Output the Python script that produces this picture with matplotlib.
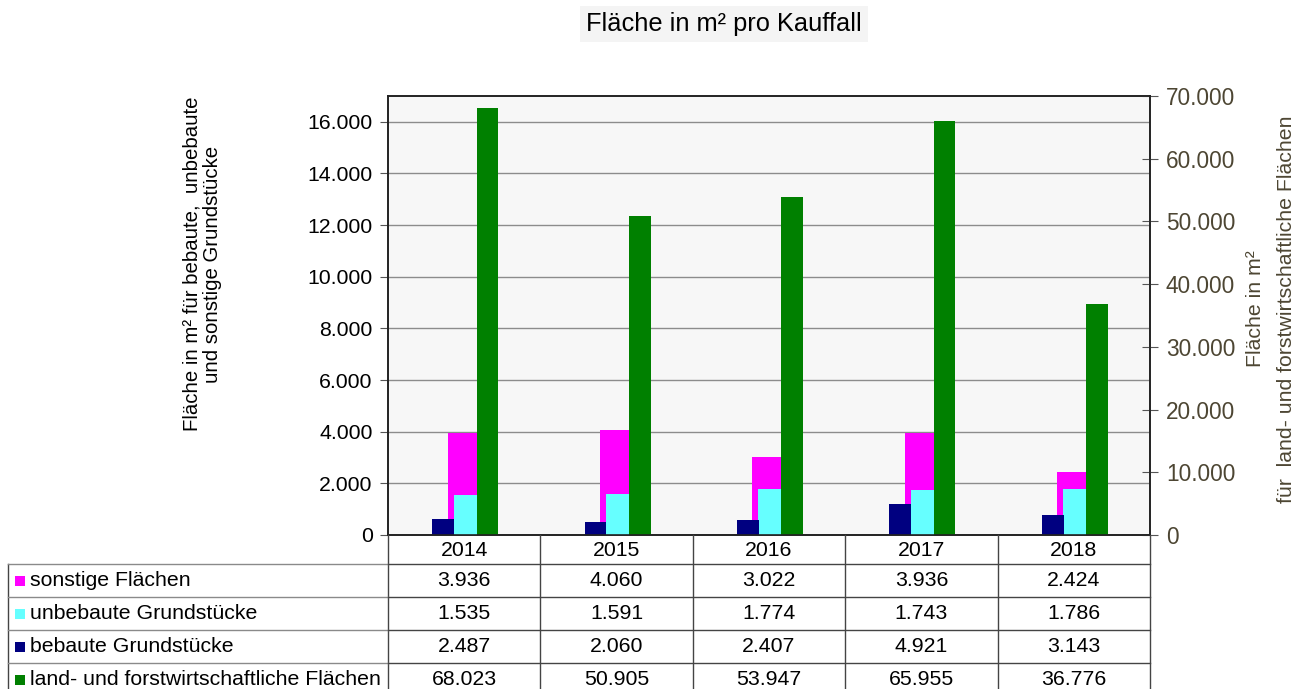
import numpy as np
import matplotlib
matplotlib.use("Agg")
import matplotlib.pyplot as plt
from matplotlib.ticker import FuncFormatter, MultipleLocator
from matplotlib.patches import Rectangle

years = ["2014", "2015", "2016", "2017", "2018"]
sonstige = [3936, 4060, 3022, 3936, 2424]
unbebaute = [1535, 1591, 1774, 1743, 1786]
bebaute = [2487, 2060, 2407, 4921, 3143]
land = [68023, 50905, 53947, 65955, 36776]

names = ["sonstige Flächen", "unbebaute Grundstücke",
         "bebaute Grundstücke", "land- und forstwirtschaftliche Flächen"]
colors = ["#ff00ff", "#66ffff", "#000080", "#008000"]


def de(v, pos=None):
    return f"{int(round(v)):,}".replace(",", ".")


plt.rcParams['font.family'] = ['Liberation Sans', 'DejaVu Sans']
FS = 15.3

W, H = 1301, 689
fig = plt.figure(figsize=(W / 100, H / 100), dpi=100)

# plot area in pixels
x0, x1, ytop, ybot = 388, 1150, 96, 535
ax = fig.add_axes([x0 / W, 1 - ybot / H, (x1 - x0) / W, (ybot - ytop) / H])
ax2 = ax.twinx()
x = np.arange(len(years))

ax.set_facecolor('#f7f7f7')
ax.bar(x - 0.013, sonstige, 0.193, color=colors[0], lw=0, zorder=2)
ax.bar(x + 0.006, unbebaute, 0.151, color=colors[1], lw=0, zorder=3)
ax2.bar(x - 0.138, bebaute, 0.143, color=colors[2], lw=0)
ax2.bar(x + 0.152, land, 0.141, color=colors[3], lw=0)

ax.set_xlim(-0.5, len(years) - 0.5)
ax.set_ylim(0, 17000)
ax2.set_ylim(0, 70000)
ax.yaxis.set_major_locator(MultipleLocator(2000))
ax2.yaxis.set_major_locator(MultipleLocator(10000))
ax.yaxis.set_major_formatter(FuncFormatter(de))
ax2.yaxis.set_major_formatter(FuncFormatter(de))
ax.grid(axis='y', color='#8c8c8c', lw=1)
ax.set_axisbelow(True)
ax.set_xticks([])
ax2.set_xticks([])
ax.tick_params(axis='y', direction='out', length=6, color='#555555',
               labelsize=FS, pad=5)
ax2.tick_params(axis='y', direction='inout', length=11, color='#555555',
                labelsize=16.3, labelcolor='#4d4633', pad=6)
for a in (ax, ax2):
    for s in a.spines.values():
        s.set_color('#222222')
        s.set_linewidth(1.2)

# left and right axis titles
fig.text(202 / W, 1 - 264 / H,
         "Fläche in m² für bebaute,  unbebaute\nund sonstige Grundstücke",
         rotation=90, ha='center', va='center', multialignment='center',
         fontsize=14.7, linespacing=1.08)
fig.text(1271 / W, 1 - 309 / H,
         "Fläche in m²\nfür  land- und forstwirtschaftliche Flächen",
         rotation=90, ha='center', va='center', multialignment='center',
         fontsize=FS, linespacing=1.75, color='#4d4633')

# title
fig.text(724 / W, 1 - 24 / H, "Fläche in m² pro Kauffall", fontsize=18.3,
         ha='center', va='center',
         bbox=dict(boxstyle='square,pad=0.25', facecolor='#f4f4f4',
                   edgecolor='none'))

# data table under the plot
tab = fig.add_axes([0, 0, 1, 1])
tab.set_xlim(0, W)
tab.set_ylim(H, 0)
tab.axis('off')

n = len(years)
edges = x0 + (x1 - x0) * np.arange(n + 1) / n
centers = (edges[:-1] + edges[1:]) / 2
row_h = 33
head_bot = 564
rows = head_bot + row_h * np.arange(len(names) + 1)

for e in edges:
    tab.plot([e, e], [ybot, H + 10], color='#444444', lw=1)
tab.plot([8, 8], [head_bot, H + 10], color='#444444', lw=1)
for r in rows:
    tab.plot([8, x0], [r, r], color='#8a8a8a', lw=1)
    tab.plot([x0, x1], [r, r], color='#444444', lw=1)

for c, yr in zip(centers, years):
    tab.text(c, (ybot + head_bot) / 2 + 1, yr, ha='center', va='center',
             fontsize=FS)

table_vals = [sonstige, unbebaute, bebaute, land]
for i, (nm, col, vals) in enumerate(zip(names, colors, table_vals)):
    yc = rows[i] + row_h / 2
    tab.add_patch(Rectangle((15, yc - 5), 10, 10, color=col, lw=0))
    tab.text(30, yc, nm, ha='left', va='center', fontsize=FS)
    for c, v in zip(centers, vals):
        tab.text(c, yc, de(v), ha='center', va='center', fontsize=FS)

fig.savefig("out.png", dpi=100)
